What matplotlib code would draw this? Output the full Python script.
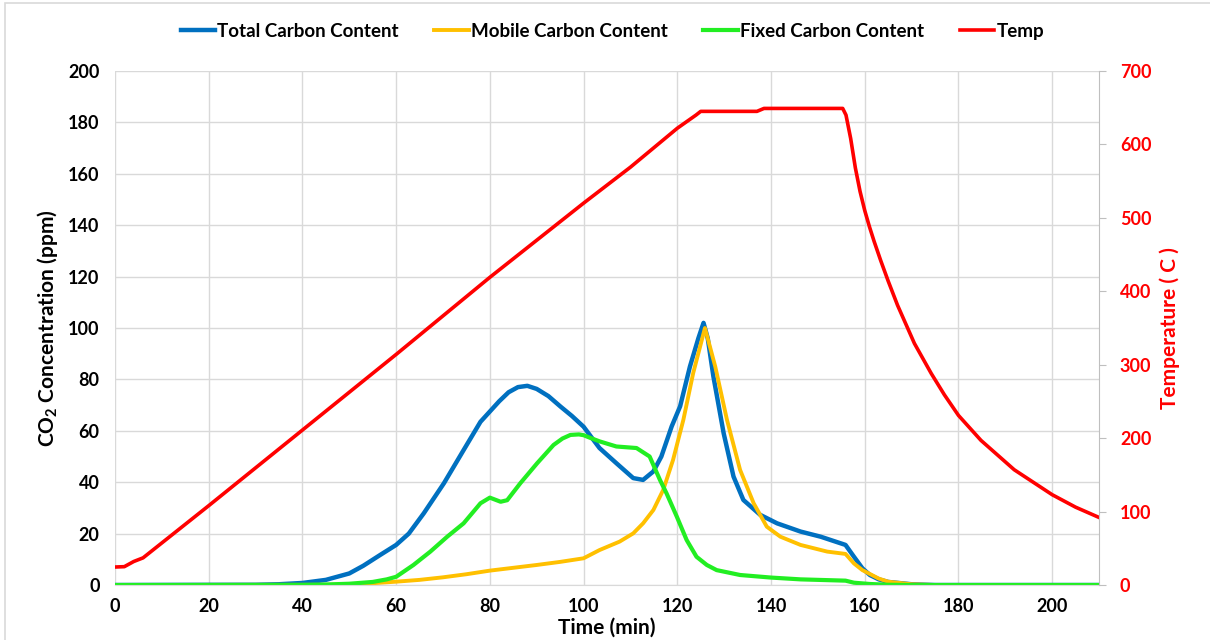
import matplotlib
matplotlib.use("Agg")
from matplotlib import pyplot as plt
from matplotlib.patches import Rectangle

# CO2 evolved during the ramped heating run (ppm) and furnace temperature (C)
total_t = [0, 30, 35, 40, 45, 50, 53, 56.6, 60, 62.7, 65.9, 70.2, 74.4, 78, 80, 82, 84, 86,
           88, 90, 92.5, 95.1, 97.5, 100, 103.4, 107, 110.6, 112.7, 114.9, 116.6, 118.8, 120.6,
           122.7, 124.5, 125.6, 126.5, 127.7, 129.9, 132, 134.1, 137.7, 141.3, 146.3, 150.6,
           155.9, 157.7, 159.5, 161.1, 163, 165, 170, 175, 210]
total_co2 = [0, 0.1, 0.3, 0.8, 2, 4.5, 7.5, 11.7, 15.6, 20, 27.9, 39.6, 52.5, 63.5, 67.5, 71.5,
             75, 77, 77.5, 76.3, 73.5, 69.4, 65.8, 61.6, 53.3, 47.4, 41.6, 40.9, 44.2, 50, 61.7,
             69.5, 85, 96, 102, 96, 81.2, 59, 42.2, 33.1, 27.3, 24, 20.8, 18.8, 15.6, 11, 6.5,
             3.9, 2.2, 1.2, 0.3, 0, 0]

mobile_t = [0, 45, 50, 55, 60, 65, 70, 75, 80, 85, 90, 95, 100, 103.4, 107.7, 110.6, 112.7,
            114.9, 117, 119.1, 121.3, 123.4, 125.9, 128.1, 130.6, 133.4, 136.3, 139.1, 142,
            146.3, 152, 155.9, 157.7, 159.5, 161.1, 163, 165, 170, 175, 210]
mobile_co2 = [0, 0.1, 0.3, 0.7, 1.3, 2, 3, 4.2, 5.6, 6.7, 7.8, 9, 10.4, 13.6, 16.9, 20.1, 24,
              29.2, 37, 48.7, 64.3, 82.5, 100, 85, 64.3, 44.8, 31.8, 22.7, 18.8, 15.6, 13, 12.1,
              8.4, 5.8, 4.3, 2.5, 1.3, 0.3, 0, 0]

fixed_t = [0, 40, 45, 50, 55, 58, 60, 63.7, 67.3, 70.9, 74.4, 78, 80, 82.3, 83.7, 86.5, 90.1,
           93.6, 95.5, 97.2, 99, 100, 101.5, 103.4, 107, 111.3, 114.1, 116.3, 117.7, 119.9,
           122, 124.1, 126.3, 128.4, 133.4, 140, 146.3, 155.9, 157.7, 161.1, 165, 170, 210]
fixed_co2 = [0, 0.05, 0.2, 0.5, 1.2, 2.2, 3.2, 7.8, 13, 18.8, 24, 31.8, 34, 32.4, 33, 39.6,
             47.4, 54.5, 57, 58.4, 58.6, 58.3, 57.2, 55.9, 53.9, 53.3, 50, 40.9, 35.7, 26.6,
             17.5, 11, 7.8, 5.8, 3.9, 2.9, 2.2, 1.7, 0.9, 0.4, 0.1, 0, 0]

temp_t = [0, 2, 4, 6, 20, 40, 60, 80, 100, 110, 120, 124, 125, 137, 138.5, 155.3, 156, 157,
          158, 159, 160, 161, 162, 163.4, 165, 167, 170.6, 174.2, 177, 180, 184.8, 191.9, 200,
          205, 210]
temp_c = [24.5, 25, 32, 37, 108, 211, 314, 419, 520, 569, 622, 640, 645, 645, 649, 649, 640,
          608, 568, 536, 510, 488, 468, 442, 414, 381, 329, 288, 259, 231, 197, 157, 123, 106,
          92]

plt.rcParams["font.family"] = ["Lato", "DejaVu Sans"]
plt.rcParams["font.weight"] = "bold"
plt.rcParams["axes.labelweight"] = "bold"
plt.rcParams["mathtext.fontset"] = "custom"
plt.rcParams["mathtext.rm"] = "Lato:bold"
plt.rcParams["mathtext.default"] = "rm"

fig = plt.figure(figsize=(12.1, 6.4), dpi=100)
fig.patches.append(Rectangle((0.0041, -0.05), 1.0, 1.045, transform=fig.transFigure,
                             facecolor="none", edgecolor="#D9D9D9", lw=1.2))

ax = fig.add_axes([0.0950, 0.0859, 0.8133, 0.8032])
ax2 = ax.twinx()

grid = "#D9D9D9"
l1, = ax.plot(total_t, total_co2, color="#0070C0", lw=3.2, label="Total Carbon Content")
l2, = ax.plot(mobile_t, mobile_co2, color="#FFC000", lw=2.8, label="Mobile Carbon Content")
l3, = ax.plot(fixed_t, fixed_co2, color="#22EE22", lw=3.0, label="Fixed Carbon Content")
l4, = ax2.plot(temp_t, temp_c, color="#FF0000", lw=2.6, label="Temp")

ax.set_xlim(0, 210)
ax.set_ylim(0, 200)
ax2.set_ylim(0, 700)
ax.set_xticks(range(0, 201, 20))
ax.set_yticks(range(0, 201, 20))
ax2.set_yticks(range(0, 701, 100))

ax.grid(True, color=grid, lw=1)
ax.set_axisbelow(True)
for s in ["top", "left", "right"]:
    ax.spines[s].set_visible(False)
    ax2.spines[s].set_visible(False)
ax.spines["bottom"].set_color(grid)
ax2.spines["bottom"].set_visible(False)
ax2.spines["right"].set_visible(True)
ax2.spines["right"].set_color("#BFBFBF")

ax.tick_params(axis="x", length=0, labelsize=13, pad=9)
ax.tick_params(axis="y", length=0, labelsize=13, pad=11)
ax2.tick_params(axis="y", length=5, color="#BFBFBF", labelcolor="red", labelsize=13, pad=10)

ax.set_xlabel("Time (min)", fontsize=15)
ax.set_ylabel("CO$_2$ Concentration (ppm)", fontsize=15)
ax2.set_ylabel("Temperature ( C )", fontsize=15, color="red")
ax.xaxis.label.set_va("center")
ax.yaxis.label.set_va("center")
ax2.yaxis.label.set_va("center")
ax.xaxis.set_label_coords(0.5, -0.0837)
ax.yaxis.set_label_coords(-0.069, 0.5)
ax2.yaxis.set_label_coords(1.072, 0.5)

fig.legend(handles=[l1, l2, l3, l4], loc="center", bbox_to_anchor=(0.506, 0.951), ncol=4,
           frameon=False, fontsize=13.5, handlelength=1.85, handletextpad=0.1,
           columnspacing=1.9)

fig.savefig("out.png", dpi=100)
